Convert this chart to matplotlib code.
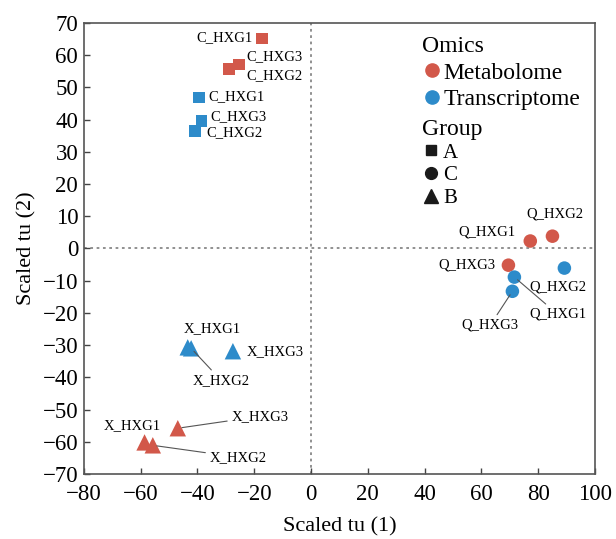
import numpy as np
import matplotlib
matplotlib.use("Agg")
import matplotlib.pyplot as plt
from matplotlib.lines import Line2D

plt.rcParams['font.family'] = ['Liberation Serif', 'DejaVu Serif']

## sample scores
names = ["C_HXG1", "C_HXG3", "C_HXG2", "C_HXG1", "C_HXG3", "C_HXG2",
         "Q_HXG1", "Q_HXG2", "Q_HXG3", "Q_HXG1", "Q_HXG3", "Q_HXG2",
         "X_HXG1", "X_HXG2", "X_HXG3", "X_HXG3", "X_HXG1", "X_HXG2"]
tu1 = [-17.2, -25.3, -28.9, -39.5, -38.6, -40.9,
       77.2, 85.0, 69.5, 71.6, 70.9, 89.2,
       -43.4, -42.2, -27.5, -46.9, -58.6, -55.7]
tu2 = [65.2, 57.1, 55.6, 46.8, 39.5, 36.5,
       2.3, 3.8, -5.2, -8.9, -13.3, -6.1,
       -30.7, -31.0, -31.9, -55.8, -60.2, -61.1]
omics = ["Metabolome"] * 3 + ["Transcriptome"] * 3 + \
        ["Metabolome"] * 3 + ["Transcriptome"] * 3 + \
        ["Transcriptome"] * 3 + ["Metabolome"] * 3
group = ["A"] * 6 + ["C"] * 6 + ["B"] * 6

# where each label sits (data coords), ha, and whether a leader line is drawn
label_xy = [(-20.5, 65.3), (-22.9, 59.4), (-22.9, 53.5), (-36.3, 47.0), (-35.6, 40.8), (-37.0, 35.8),
            (62.0, 5.0), (86.0, 10.7), (55.0, -5.0), (86.8, -20.4), (63.1, -23.8), (86.8, -12.1),
            (-34.6, -24.8), (-31.7, -40.9), (-22.6, -31.9), (-18.0, -52.1), (-62.8, -54.9), (-25.7, -64.8)]
label_ha = ["right", "left", "left", "left", "left", "left",
            "center", "center", "center", "center", "center", "center",
            "center", "center", "left", "center", "center", "center"]
leader = [False] * 9 + [True, True, False, False, True, False, True, False, True]

colors = {"Metabolome": "#d2584a", "Transcriptome": "#2d8bca"}
markers = {"A": "s", "C": "o", "B": "^"}
msize = {"A": 70, "C": 95, "B": 140}

fig = plt.figure(figsize=(6.16, 5.39), dpi=100)
ax = fig.add_axes([0.136, 0.1206, 0.830, 0.837])

ax.axvline(0, color="#888888", ls=(0, (1.5, 2)), lw=1.3, zorder=1)
ax.axhline(0, color="#888888", ls=(0, (1.5, 2)), lw=1.3, zorder=1)

for i in range(len(names)):
    ax.scatter(tu1[i], tu2[i], s=msize[group[i]], marker=markers[group[i]],
               color=colors[omics[i]], edgecolors="none", zorder=3 + i * 0.01)
    if leader[i]:
        ax.annotate(names[i], xy=(tu1[i], tu2[i]), xytext=label_xy[i],
                    ha=label_ha[i], va="center", fontsize=10.5,
                    arrowprops=dict(arrowstyle="-", color="#555555", lw=0.8,
                                    shrinkA=1, shrinkB=3), zorder=5)
    else:
        ax.text(label_xy[i][0], label_xy[i][1], names[i], ha=label_ha[i],
                va="center", fontsize=10.5, zorder=5)

ax.set_xlim(-80, 100)
ax.set_ylim(-70, 70)
ax.set_xticks(np.arange(-80, 101, 20))
ax.set_yticks(np.arange(-70, 71, 10))
ax.tick_params(direction="in", length=4, width=1, labelsize=16.5, colors="#444444",
               labelcolor="black")
ax.tick_params(axis="x", pad=7)
ax.tick_params(axis="y", pad=4)
for sp in ax.spines.values():
    sp.set_color("#555555")
    sp.set_linewidth(1.2)

ax.set_xlabel("Scaled tu (1)", fontsize=16, labelpad=9)
ax.set_ylabel("Scaled tu (2)", fontsize=16, labelpad=4)

# legends
h_omics = [Line2D([], [], marker="o", ls="", color=colors[k], markersize=9.5)
           for k in ["Metabolome", "Transcriptome"]]
leg1 = ax.legend(h_omics, ["Metabolome", "Transcriptome"], title="Omics",
                 loc="upper left", bbox_to_anchor=(0.662, 0.97), frameon=False,
                 fontsize=17, title_fontsize=17, handletextpad=0.1,
                 handlelength=0.8, labelspacing=0.2, borderaxespad=0,
                 borderpad=0, alignment="left")
ax.add_artist(leg1)
h_group = [Line2D([], [], marker=markers[k], ls="", color="#1a1a1a",
                  markersize={"A": 7.5, "C": 8.5, "B": 9.5}[k]) for k in ["A", "C", "B"]]
ax.legend(h_group, ["A", "C", "B"], title="Group",
          loc="upper left", bbox_to_anchor=(0.662, 0.787), frameon=False,
          fontsize=15, title_fontsize=17, handletextpad=0.2,
          handlelength=0.8, labelspacing=0.15, borderaxespad=0,
          borderpad=0, alignment="left")

fig.savefig("out.png", dpi=100)
